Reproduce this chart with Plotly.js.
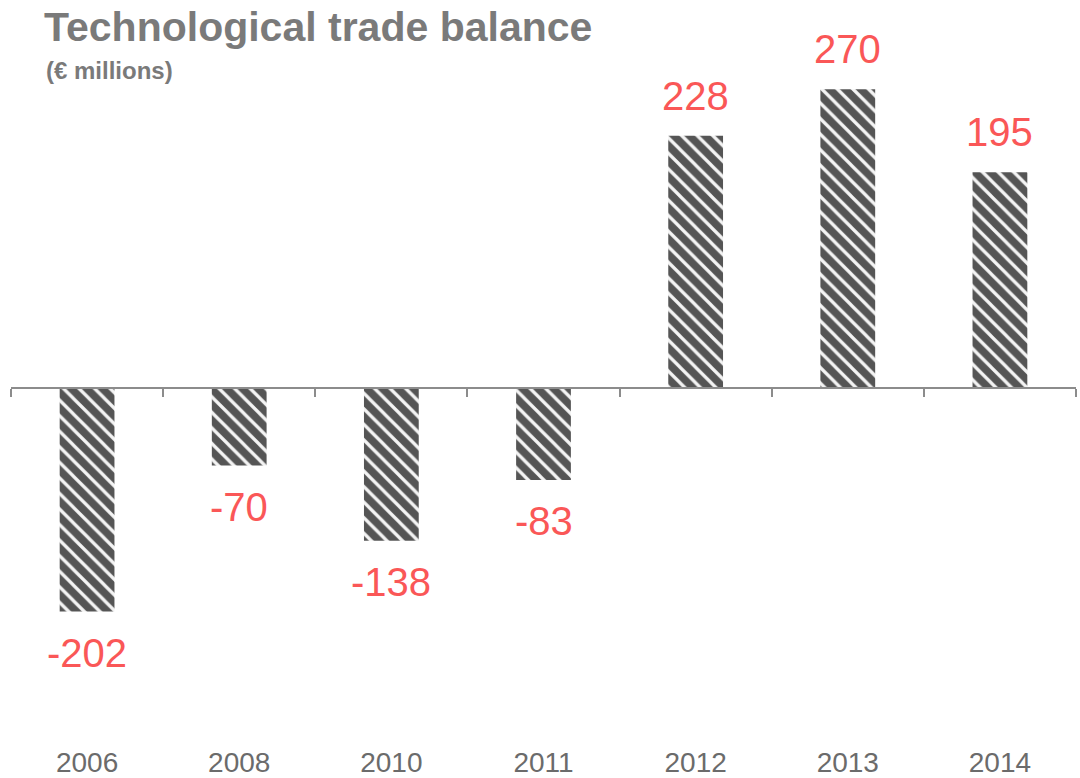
<!DOCTYPE html>
<html>
<head>
<meta charset="utf-8">
<script src="https://cdn.plot.ly/plotly-3.0.1.min.js"></script>
<style>html,body{margin:0;padding:0;background:#fff;}#chart{width:1080px;height:778px;}</style>
</head>
<body>
<div id="chart"></div>
<script>
const years = ['2006', '2008', '2010', '2011', '2012', '2013', '2014'];
const balance = [-202, -70, -138, -83, 228, 270, 195];
const chartTitle = 'Technological trade balance';
const chartSubtitle = '(€ millions)';

const yMin = -318, yMax = 300;
const zeroPos = (0 - yMin) / (yMax - yMin);

const bars = {
  type: 'bar',
  x: years,
  y: balance,
  width: 0.36,
  marker: {
    color: '#555555',
    line: {width: 0},
    pattern: {shape: '\\', fgcolor: '#f4f4f4', bgcolor: '#555555', size: 11, solidity: 0.3, fillmode: 'replace'}
  },
  hoverinfo: 'x+y'
};
const axisHelper = {
  type: 'scatter', x: years, y: balance, xaxis: 'x2', mode: 'markers',
  marker: {opacity: 0}, hoverinfo: 'skip', showlegend: false
};

const annotations = years.map((yr, i) => ({
  x: i, y: balance[i], xref: 'x', yref: 'y',
  text: String(balance[i]), showarrow: false,
  yanchor: 'middle', yshift: balance[i] >= 0 ? 40 : -41,
  font: {family: 'Liberation Sans, Arial, sans-serif', size: 40, color: '#fa5757'}
}));
annotations.push({
  xref: 'paper', yref: 'paper', x: (44 - 11) / 1065, y: (740 - 70) / 684,
  xanchor: 'left', yanchor: 'middle', showarrow: false,
  text: '<b>' + chartSubtitle + '</b>',
  font: {family: 'Liberation Sans, Arial, sans-serif', size: 24, color: '#7a7a7a'}
});

const layout = {
  width: 1080, height: 778,
  margin: {l: 11, r: 4, t: 56, b: 38},
  paper_bgcolor: '#ffffff', plot_bgcolor: '#ffffff',
  showlegend: false,
  title: {
    text: '<b>' + chartTitle + '</b>',
    xref: 'container', yref: 'container', x: 44 / 1080, xanchor: 'left',
    y: 1 - 27 / 778, yanchor: 'middle',
    font: {family: 'Liberation Sans, Arial, sans-serif', size: 41, color: '#7a7a7a'}
  },
  xaxis: {
    type: 'category', range: [-0.5, 6.5], showline: false, ticks: '',
    showgrid: false, zeroline: false, ticklabelstandoff: 3,
    tickfont: {family: 'Liberation Sans, Arial, sans-serif', size: 28, color: '#6b6b6b'}
  },
  xaxis2: {
    type: 'category', range: [-0.5, 6.5], overlaying: 'x', anchor: 'free', position: zeroPos,
    side: 'bottom', showline: true, linecolor: '#8c8c8c', linewidth: 2,
    ticks: 'outside', ticklen: 8, tickwidth: 2, tickcolor: '#8c8c8c', tickson: 'boundaries',
    showticklabels: false, showgrid: false, zeroline: false
  },
  yaxis: {
    range: [yMin, yMax], visible: false, showgrid: false, zeroline: false
  },
  annotations: annotations
};

Plotly.newPlot('chart', [bars, axisHelper], layout, {displayModeBar: false, staticPlot: true});
</script>
</body>
</html>
